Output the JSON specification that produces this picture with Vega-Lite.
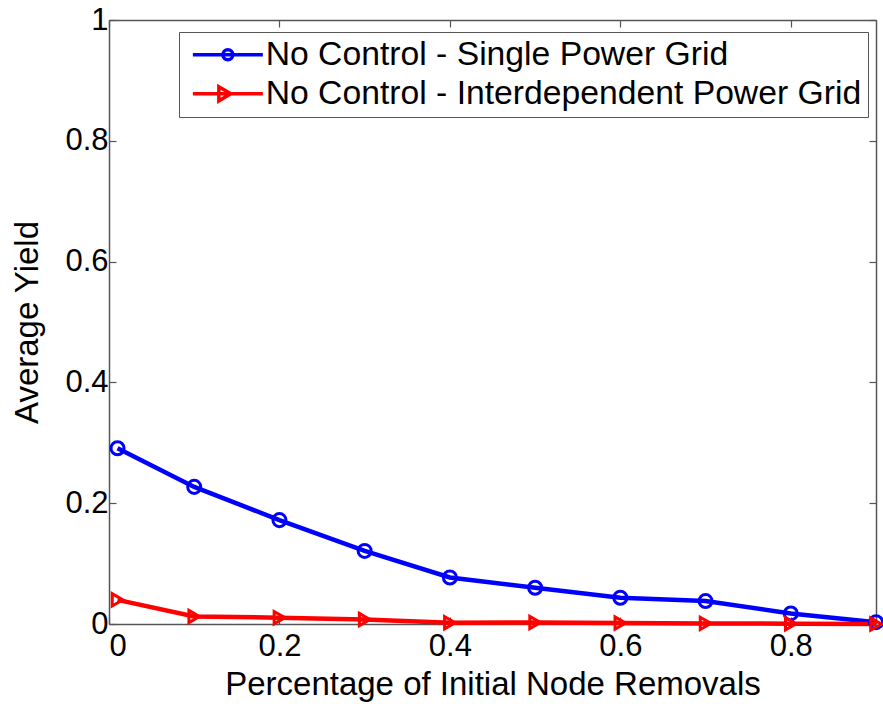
{
  "$schema": "https://vega.github.io/schema/vega-lite/v6.json",
  "autosize": "none",
  "width": 767,
  "height": 604,
  "padding": {"left": 109, "top": 20, "right": 7, "bottom": 80},
  "background": "white",
  "config": {
    "font": "Liberation Sans",
    "view": {"stroke": null},
    "axis": {
      "grid": false,
      "domainColor": "#555555",
      "domainWidth": 1.5,
      "tickColor": "#555555",
      "tickWidth": 1.2,
      "tickSize": -7,
      "labelFont": "Liberation Sans",
      "labelFontSize": 31,
      "labelColor": "black",
      "titleFont": "Liberation Sans",
      "titleFontSize": 33,
      "titleFontWeight": "normal",
      "titleColor": "black"
    }
  },
  "data": {
    "values": [
      {"removed": 0.01, "yield": 0.291, "series": "No Control - Single Power Grid"},
      {"removed": 0.1, "yield": 0.227, "series": "No Control - Single Power Grid"},
      {"removed": 0.2, "yield": 0.172, "series": "No Control - Single Power Grid"},
      {"removed": 0.3, "yield": 0.121, "series": "No Control - Single Power Grid"},
      {"removed": 0.4, "yield": 0.077, "series": "No Control - Single Power Grid"},
      {"removed": 0.5, "yield": 0.06, "series": "No Control - Single Power Grid"},
      {"removed": 0.6, "yield": 0.0435, "series": "No Control - Single Power Grid"},
      {"removed": 0.7, "yield": 0.038, "series": "No Control - Single Power Grid"},
      {"removed": 0.8, "yield": 0.0175, "series": "No Control - Single Power Grid"},
      {"removed": 0.9, "yield": 0.003, "series": "No Control - Single Power Grid"},
      {"removed": 0.01, "yield": 0.04, "series": "No Control - Interdependent Power Grid"},
      {"removed": 0.1, "yield": 0.0125, "series": "No Control - Interdependent Power Grid"},
      {"removed": 0.2, "yield": 0.0105, "series": "No Control - Interdependent Power Grid"},
      {"removed": 0.3, "yield": 0.0075, "series": "No Control - Interdependent Power Grid"},
      {"removed": 0.4, "yield": 0.002, "series": "No Control - Interdependent Power Grid"},
      {"removed": 0.5, "yield": 0.0025, "series": "No Control - Interdependent Power Grid"},
      {"removed": 0.6, "yield": 0.0015, "series": "No Control - Interdependent Power Grid"},
      {"removed": 0.7, "yield": 0.001, "series": "No Control - Interdependent Power Grid"},
      {"removed": 0.8, "yield": 0.0005, "series": "No Control - Interdependent Power Grid"},
      {"removed": 0.9, "yield": 0.0, "series": "No Control - Interdependent Power Grid"}
    ]
  },
  "resolve": {"axis": {"x": "independent", "y": "independent"}},
  "layer": [
    {
      "mark": {"type": "line", "strokeWidth": 4.5, "clip": false},
      "encoding": {
        "x": {
          "field": "removed", "type": "quantitative",
          "scale": {"domain": [0, 0.9], "nice": false, "zero": false},
          "axis": {"values": [0, 0.2, 0.4, 0.6, 0.8], "format": "~g", "labelPadding": 14,
                   "title": "Percentage of Initial Node Removals", "titlePadding": 7}
        },
        "y": {
          "field": "yield", "type": "quantitative",
          "scale": {"domain": [0, 1], "nice": false},
          "axis": {"values": [0, 0.2, 0.4, 0.6, 0.8, 1], "format": "~g", "labelPadding": 8,
                   "title": "Average Yield", "titlePadding": 20}
        },
        "color": {
          "field": "series", "type": "nominal",
          "sort": ["No Control - Single Power Grid", "No Control - Interdependent Power Grid"],
          "scale": {
            "domain": ["No Control - Single Power Grid", "No Control - Interdependent Power Grid"],
            "range": ["#0000ff", "#ff0000"]
          },
          "legend": {
            "title": null,
            "orient": "none",
            "legendX": 70,
            "legendY": 12,
            "padding": 6,
            "strokeColor": "#555555",
            "fillColor": "white",
            "labelFont": "Liberation Sans",
            "labelFontSize": 33.7,
            "labelColor": "black",
            "labelLimit": 800,
            "labelOffset": 47,
            "rowPadding": 4,
            "symbolSize": 100,
            "symbolStrokeWidth": 3.5,
            "encode": {
              "symbols": {
                "update": {
                  "shape": {"signal": "datum.value === 'No Control - Single Power Grid' ? 'M-1.8,0H12.2M4.2,0A1,1 0 1,1 6.2,0A1,1 0 1,1 4.2,0' : 'M-1.8,0H12.2M3.4,-1.4L5.8,0L3.4,1.4Z'"},
                  "fill": {"value": "transparent"},
                  "strokeWidth": {"value": 3.5}
                }
              }
            }
          }
        }
      }
    },
    {
      "transform": [{"filter": "datum.series === 'No Control - Single Power Grid'"}],
      "mark": {"type": "point", "shape": "circle", "filled": false, "color": "#0000ff", "strokeWidth": 3, "size": 170, "clip": false, "opacity": 1},
      "encoding": {
        "x": {
          "field": "removed", "type": "quantitative",
          "axis": {"orient": "top", "values": [0, 0.2, 0.4, 0.6, 0.8], "labels": false, "title": null}
        },
        "y": {
          "field": "yield", "type": "quantitative",
          "axis": {"orient": "right", "values": [0, 0.2, 0.4, 0.6, 0.8, 1], "labels": false, "title": null}
        }
      }
    },
    {
      "transform": [{"filter": "datum.series === 'No Control - Interdependent Power Grid'"}],
      "mark": {"type": "point", "shape": "triangle-right", "filled": false, "color": "#ff0000", "strokeWidth": 3, "size": 150, "clip": false, "opacity": 1},
      "encoding": {
        "x": {"field": "removed", "type": "quantitative", "axis": null},
        "y": {"field": "yield", "type": "quantitative", "axis": null}
      }
    }
  ]
}
